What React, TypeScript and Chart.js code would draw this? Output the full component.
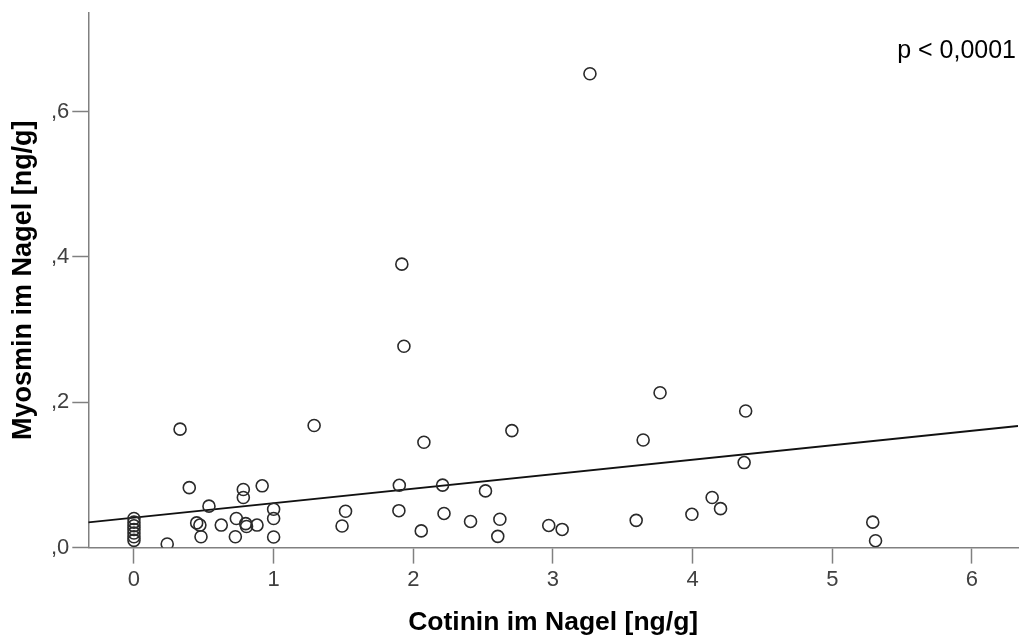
import React, { useEffect, useRef } from "react";
import { Chart, registerables } from "chart.js";

Chart.register(...registerables);

// Cotinin (x) and Myosmin (y) values, ng/g
const cotinin = [
  0, 0, 0, 0, 0, 0, 0,
  0.238, 0.33, 0.396, 0.449, 0.472, 0.48, 0.537, 0.625, 0.726, 0.733,
  0.783, 0.783, 0.8, 0.806, 0.881, 0.918, 1.0, 1.0, 1.0,
  1.29, 1.49, 1.515, 1.897, 1.9, 1.918, 1.933, 2.057, 2.076, 2.21, 2.22,
  2.41, 2.517, 2.605, 2.62, 2.706, 2.97, 3.066, 3.265, 3.596, 3.646,
  3.767, 3.995, 4.14, 4.2, 4.369, 4.38, 5.29, 5.31,
];
const myosmin = [
  0.04, 0.035, 0.03, 0.025, 0.02, 0.015, 0.01,
  0.005, 0.163, 0.0825, 0.034, 0.031, 0.015, 0.057, 0.031, 0.015, 0.04,
  0.08, 0.069, 0.033, 0.029, 0.031, 0.085, 0.0527, 0.04, 0.0146,
  0.168, 0.0297, 0.05, 0.0508, 0.0857, 0.39, 0.277, 0.023, 0.145, 0.086, 0.047,
  0.036, 0.078, 0.0155, 0.039, 0.161, 0.0305, 0.025, 0.652, 0.0375, 0.148,
  0.213, 0.0458, 0.069, 0.0536, 0.117, 0.188, 0.035, 0.0095,
];

// Regression line end points
const fitX = [-0.327, 6.33];
const fitY = [0.0348, 0.1673];

const xTitle = "Cotinin im Nagel [ng/g]";
const yTitle = "Myosmin im Nagel [ng/g]";
const pText = "p < 0,0001";

const FONT = '"Liberation Sans", Arial, Helvetica, sans-serif';

const pLabelPlugin = {
  id: "pLabel",
  afterDraw(chart: any) {
    const { ctx, chartArea } = chart;
    ctx.save();
    ctx.font = `25px ${FONT}`;
    ctx.fillStyle = "#000";
    ctx.textAlign = "right";
    ctx.textBaseline = "alphabetic";
    ctx.fillText(pText, chartArea.right - 2, chartArea.top + 45);
    ctx.restore();
  },
};

export default function App() {
  const ref = useRef<HTMLCanvasElement | null>(null);

  useEffect(() => {
    if (!ref.current) return;
    const scatterData = cotinin.map((x, i) => ({ x, y: myosmin[i] }));
    const fitData = fitX.map((x, i) => ({ x, y: fitY[i] }));
    const chart = new Chart(ref.current, {
      type: "scatter",
      data: {
        datasets: [
          {
            type: "scatter",
            data: scatterData,
            pointRadius: 6,
            pointHoverRadius: 6,
            pointBorderWidth: 1.6,
            pointBorderColor: "#2a2a2a",
            pointBackgroundColor: "rgba(0,0,0,0)",
            clip: 0,
          } as any,
          {
            type: "line",
            data: fitData,
            borderColor: "#111",
            borderWidth: 1.8,
            pointRadius: 0,
            fill: false,
            clip: 0,
          } as any,
        ],
      },
      options: {
        animation: false,
        responsive: false,
        devicePixelRatio: 1,
        layout: { autoPadding: false, padding: { top: 12.7, right: 2, left: 0, bottom: 0 } },
        plugins: {
          legend: { display: false },
          tooltip: { enabled: false },
        },
        scales: {
          x: {
            type: "linear",
            min: -0.327,
            max: 6.33,
            ticks: {
              stepSize: 1,
              includeBounds: false,
              autoSkip: false,
              maxRotation: 0,
              padding: 3,
              color: "#404040",
              font: { family: FONT, size: 22 },
            },
            grid: {
              drawOnChartArea: false,
              drawTicks: true,
              tickLength: 16,
              tickWidth: 1.5,
              color: "#808080",
            },
            border: { display: true, color: "#808080", width: 1.5 },
            title: {
              display: true,
              text: xTitle,
              color: "#000",
              font: { family: FONT, size: 26.5, weight: "bold" },
              padding: { top: 0, bottom: 3 },
            },
            afterFit: (s: any) => {
              s.height = 94.4;
              s.paddingLeft = 0;
              s.paddingRight = 0;
            },
          },
          y: {
            type: "linear",
            min: 0,
            max: 0.736,
            ticks: {
              stepSize: 0.2,
              includeBounds: false,
              padding: 3,
              color: "#404040",
              font: { family: FONT, size: 22 },
              callback: (v: any) => "," + Math.round(Number(v) * 10),
            },
            grid: {
              drawOnChartArea: false,
              drawTicks: true,
              tickLength: 16,
              tickWidth: 1.5,
              color: "#808080",
            },
            border: { display: true, color: "#808080", width: 1.5 },
            title: {
              display: true,
              text: yTitle,
              color: "#000",
              font: { family: FONT, size: 27, weight: "bold" },
              padding: { top: 7, bottom: 0 },
            },
            afterFit: (s: any) => {
              s.width = 88.3;
              s.paddingTop = 0;
              s.paddingBottom = 0;
            },
          },
        },
      } as any,
      plugins: [pLabelPlugin],
    });
    return () => chart.destroy();
  }, []);

  return (
    <div style={{ position: "fixed", left: 0, top: 0, width: 1020, height: 642, background: "#fff" }}>
      <canvas ref={ref} width={1020} height={642} style={{ width: 1020, height: 642, display: "block" }} />
    </div>
  );
}
